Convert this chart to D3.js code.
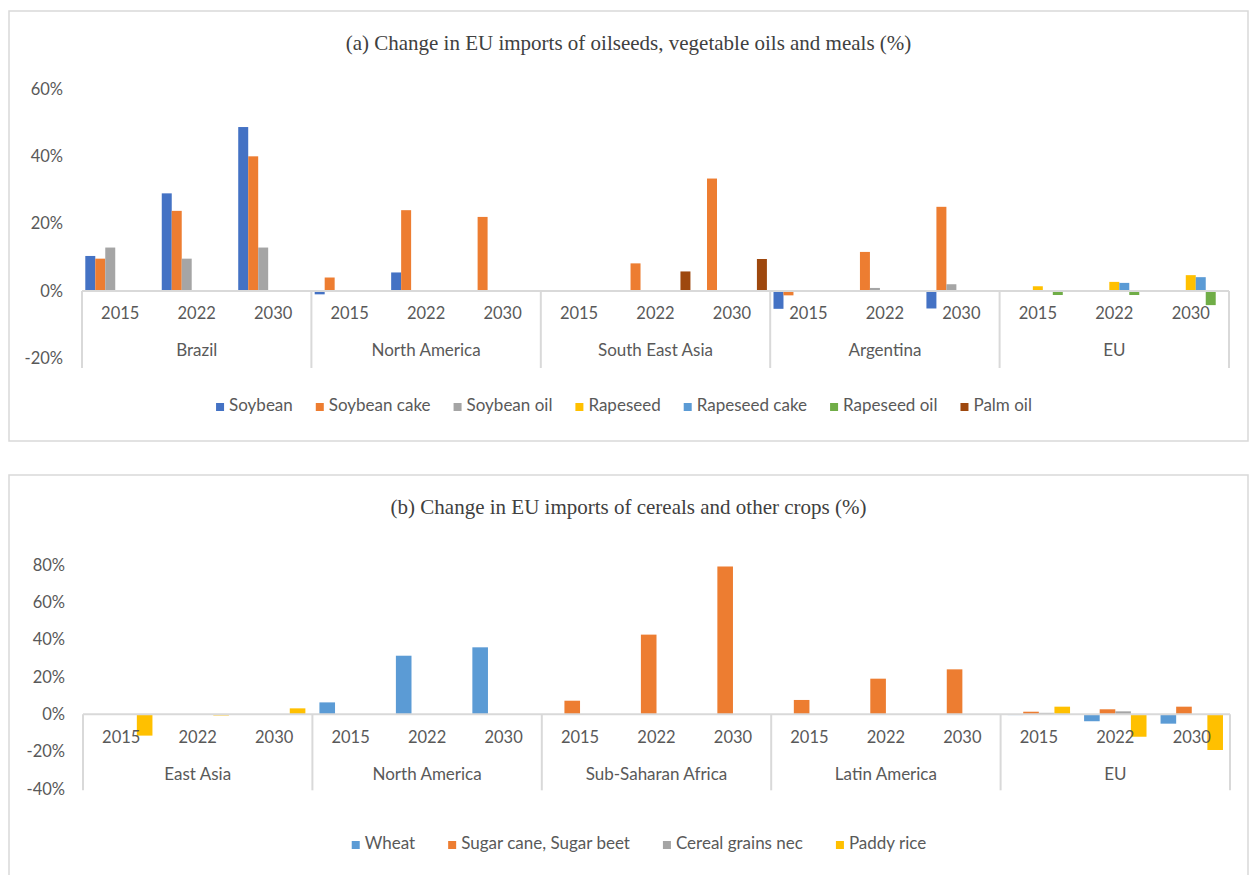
<!DOCTYPE html>
<html>
<head>
<meta charset="utf-8">
<script src="https://cdn.jsdelivr.net/npm/d3@7"></script>
<style>
  body { margin: 0; background: #fff; }
  svg { display: block; }
  text { font-family: Lato, "Open Sans", sans-serif; fill: #595959; }
  .title { font-family: "Liberation Serif", "Times New Roman", serif; fill: #404040; }
</style>
</head>
<body>
<svg width="1249" height="875"></svg>
<script>
// shared category levels
var years = ['2015', '2022', '2030'];

// (a) oilseeds, vegetable oils and meals
var regionsA = ['Brazil', 'North America', 'South East Asia', 'Argentina', 'EU'];
var seriesA = ['Soybean', 'Soybean cake', 'Soybean oil', 'Rapeseed', 'Rapeseed cake', 'Rapeseed oil', 'Palm oil'];
var colorsA = ['#4472C4', '#ED7D31', '#A5A5A5', '#FFC000', '#5B9BD5', '#70AD47', '#9E480E'];
var soybean      = [10.4, 29.0, 48.7, -1.0, 5.5, 0,  0, 0, 0,  -5.3, 0, -5.2,  0, 0, 0];
var soybeanCake  = [9.6, 23.8, 40.0,  4.0, 24.0, 22.0,  -0.3, 8.2, 33.4,  -1.3, 11.6, 25.0,  0, 0, 0];
var soybeanOil   = [12.9, 9.6, 12.9,  0, 0, 0,  0, 0, 0,  0, 0.9, 2.0,  0, 0, 0];
var rapeseed     = [0, 0, 0,  0, 0, 0,  0, 0, 0,  0, 0, 0,  1.4, 2.7, 4.7];
var rapeseedCake = [0, 0, 0,  0, 0, 0,  0, 0, 0,  0, 0, 0,  0, 2.4, 4.1];
var rapeseedOil  = [0, 0, 0,  0, 0, 0,  0, 0, 0,  0, 0, 0,  -1.2, -1.2, -4.2];
var palmOil      = [0, 0, 0,  0, 0, 0,  0, 5.8, 9.5,  0, 0, 0,  0, 0, 0];
var ticksA = [-20, 0, 20, 40, 60];

// (b) cereals and other crops
var regionsB = ['East Asia', 'North America', 'Sub-Saharan Africa', 'Latin America', 'EU'];
var seriesB = ['Wheat', 'Sugar cane, Sugar beet', 'Cereal grains nec', 'Paddy rice'];
var colorsB = ['#5B9BD5', '#ED7D31', '#A5A5A5', '#FFC000'];
var wheat      = [0, 0, 0,  6.4, 31.4, 35.9,  0, 0, 0,  0, 0, 0,  -0.4, -3.7, -5.0];
var sugarCane  = [0, 0, 0,  0, 0, 0,  7.3, 42.7, 79.2,  7.7, 19.1, 24.1,  1.4, 2.7, 4.1];
var cerealNec  = [0, 0, 0,  0, 0, 0,  0, 0, 0,  0, 0, 0,  0.8, 1.6, 0];
var paddyRice  = [-11.4, -0.6, 3.2,  0, 0, 0,  0, 0, 0,  0, 0, 0,  4.1, -12.0, -19.1];
var ticksB = [-40, -20, 0, 20, 40, 60, 80];

var svg = d3.select('svg');
var lineColor = '#d9d9d9';

function drawPanel(cfg) {
    var g = svg.append('g');

    // frame
    g.append('rect')
        .attr('x', cfg.box[0]).attr('y', cfg.box[1])
        .attr('width', cfg.box[2]).attr('height', cfg.box[3])
        .attr('fill', '#fff').attr('stroke', lineColor).attr('stroke-width', 1.5);

    g.append('text')
        .attr('class', 'title')
        .attr('x', cfg.box[0] + cfg.box[2] / 2)
        .attr('y', cfg.titleY)
        .attr('text-anchor', 'middle')
        .attr('dominant-baseline', 'middle')
        .style('font-size', '21px')
        .text(cfg.title);

    var cats = [];
    cfg.regions.forEach(function (r) {
        years.forEach(function (yr) { cats.push(r + '|' + yr); });
    });

    var x0 = d3.scaleBand().domain(cats).range([cfg.left, cfg.right]);
    var x1 = d3.scaleBand().domain(cfg.series).range([0, x0.bandwidth()]).paddingOuter(cfg.outerPad);
    var y = d3.scaleLinear().domain(cfg.domain).range([cfg.bottom, cfg.top]);

    // y tick labels only, no axis line
    var yAxis = d3.axisLeft(y).tickValues(cfg.ticks).tickSize(0).tickPadding(0)
        .tickFormat(function (d) { return d + '%'; });
    var ya = g.append('g')
        .attr('transform', 'translate(' + cfg.labelX + ',0)')
        .call(yAxis);
    ya.select('.domain').remove();
    ya.selectAll('text').style('font-size', '16.5px').attr('fill', '#595959');

    // bars
    cfg.series.forEach(function (s, i) {
        g.append('g').selectAll('rect')
            .data(cfg.values[i].map(function (v, k) { return {cat: cats[k], v: v}; }))
            .enter().append('rect')
            .filter(function (d) { return d.v !== 0; })
            .attr('x', function (d) { return x0(d.cat) + x1(s); })
            .attr('width', x1.bandwidth())
            .attr('y', function (d) { return y(Math.max(0, d.v)); })
            .attr('height', function (d) { return Math.abs(y(d.v) - y(0)); })
            .attr('fill', cfg.colors[i]);
    });

    // category axis
    var zero = y(0);
    g.append('line')
        .attr('x1', cfg.left).attr('x2', cfg.right)
        .attr('y1', zero).attr('y2', zero)
        .attr('stroke', lineColor).attr('stroke-width', 2);

    var regionW = (cfg.right - cfg.left) / cfg.regions.length;
    d3.range(cfg.regions.length + 1).forEach(function (k) {
        var xx = cfg.left + k * regionW;
        g.append('line')
            .attr('x1', xx).attr('x2', xx)
            .attr('y1', zero).attr('y2', zero + cfg.sepLen)
            .attr('stroke', lineColor).attr('stroke-width', 2);
    });

    g.selectAll('.yr').data(cats).enter().append('text')
        .attr('x', function (d) { return x0(d) + x0.bandwidth() / 2; })
        .attr('y', zero + cfg.yearOff)
        .attr('text-anchor', 'middle')
        .attr('dominant-baseline', 'middle')
        .style('font-size', '16.5px')
        .text(function (d) { return d.split('|')[1]; });

    g.selectAll('.rg').data(cfg.regions).enter().append('text')
        .attr('x', function (d, k) { return cfg.left + (k + 0.5) * regionW; })
        .attr('y', zero + cfg.regionOff)
        .attr('text-anchor', 'middle')
        .attr('dominant-baseline', 'middle')
        .style('font-size', '17px')
        .text(function (d) { return d; });

    // legend
    var leg = g.append('g');
    var xpos = 0;
    cfg.series.forEach(function (s, i) {
        var item = leg.append('g').attr('transform', 'translate(' + xpos + ',0)');
        item.append('rect').attr('x', 0).attr('y', -4).attr('width', 8).attr('height', 8)
            .attr('fill', cfg.colors[i]);
        var t = item.append('text').attr('x', 13).attr('y', 0)
            .attr('dominant-baseline', 'middle')
            .style('font-size', '17px')
            .text(s);
        xpos += 13 + t.node().getComputedTextLength() + cfg.legendGap;
    });
    var legW = xpos - cfg.legendGap;
    leg.attr('transform', 'translate(' + (cfg.legendCx - legW / 2) + ',' + cfg.legendY + ')');
}

drawPanel({
    box: [9, 11, 1239, 430],
    title: '(a) Change in EU imports of oilseeds, vegetable oils and meals (%)',
    titleY: 45,
    regions: regionsA, series: seriesA, colors: colorsA,
    values: [soybean, soybeanCake, soybeanOil, rapeseed, rapeseedCake, rapeseedOil, palmOil],
    ticks: ticksA, domain: [-20, 60],
    left: 82, right: 1229, top: 89, bottom: 358.3,
    outerPad: 0.33, labelX: 63,
    sepLen: 77, yearOff: 24, regionOff: 61,
    legendY: 407, legendCx: 624, legendGap: 23
});

drawPanel({
    box: [9, 475, 1239, 410],
    title: '(b) Change in EU imports of cereals and other crops (%)',
    titleY: 509,
    regions: regionsB, series: seriesB, colors: colorsB,
    values: [wheat, sugarCane, cerealNec, paddyRice],
    ticks: ticksB, domain: [-40, 80],
    left: 83, right: 1230, top: 565, bottom: 789,
    outerPad: 0.45, labelX: 65,
    sepLen: 76, yearOff: 24, regionOff: 61,
    legendY: 845, legendCx: 639, legendGap: 33
});
</script>
</body>
</html>
